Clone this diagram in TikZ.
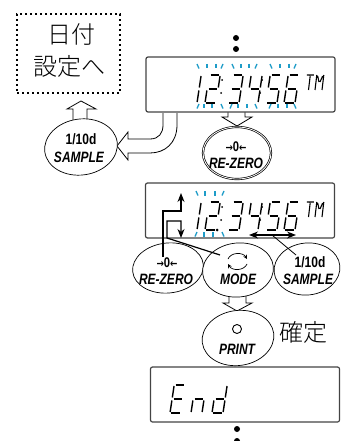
\documentclass[tikz,border=0pt]{standalone}
\usepackage{fontspec}
\setmainfont{Liberation Sans}
\newfontfamily\cjk[UprightFont=* Light]{Noto Sans CJK JP}
\newfontfamily\keyfont[FakeStretch=0.8]{Liberation Sans}
\newfontfamily\arrowfont[FakeStretch=0.8]{DejaVu Sans}
\usetikzlibrary{arrows.meta, positioning, shapes.geometric}
\definecolor{panelgray}{HTML}{444444}
\definecolor{flashblue}{HTML}{1E9CC8}
\tikzset{
  sega/.style={insert path={(1.5,28) -- (10,28)}},
  segb/.style={insert path={(11,27) -- (11,15.5)}},
  segc/.style={insert path={(11,12.5) -- (11,1)}},
  segd/.style={insert path={(1,0) -- (10,0)}},
  sege/.style={insert path={(0,1) -- (0,12.5)}},
  segf/.style={insert path={(0,15.5) -- (0,27)}},
  segg/.style={insert path={(1.5,14) -- (9.5,14)}},
}
\newcommand{\lcdglyph}[3]{%
  \begin{scope}[shift={(#1,#2)}, x=1pt, y=1pt, xslant=0.15]
    \foreach \s in {#3} \draw[lcdseg, seg\s];
  \end{scope}}
\newcommand{\lcdtime}[1]{%
  \lcdglyph{186}{#1}{b,c}
  \lcdglyph{205}{#1}{a,b,g,e,d}
  \lcdglyph{228}{#1}{a,b,g,c,d}
  \lcdglyph{247}{#1}{f,g,b,c}
  \lcdglyph{266}{#1}{a,f,g,c,d}
  \lcdglyph{284}{#1}{a,f,g,e,c,d}
  \fill (222,#1-23) circle (1) (221,#1-10) circle (1) (262,#1-23) circle (1) (260,#1-10) circle (1);
  % TM mark
  \begin{scope}[shift={(305,#1-13)}, x=1pt, y=1pt, xslant=0.12, line width=1.1pt]
    \draw (0,15) -- (7,15) (3.5,14) -- (3.5,0);
    \draw (10,15) -- (10,0) (17,15) -- (17,0) (11,14) -- (13,8) (16,14) -- (14,8);
  \end{scope}}
\newcommand{\keyarrows}{{\arrowfont\bfseries\fontsize{11}{11}\selectfont →}{\fontsize{14}{14}\selectfont 0}{\arrowfont\bfseries\fontsize{11}{11}\selectfont ←}}
\begin{document}
\begin{tikzpicture}[
  x=1pt, y=-1pt,
  lcdpanel/.style={rectangle, rounded corners=2pt, minimum width=189pt, minimum height=55pt, draw=panelgray, line width=1.2pt, fill=white},
  keyoval/.style={ellipse, draw, line width=0.7pt, fill=white, inner sep=0pt, minimum width=71pt, minimum height=54pt},
  keytext/.style={font=\keyfont\bfseries\itshape\fontsize{15}{15}\selectfont, inner sep=0pt},
  keytop/.style={font=\keyfont\bfseries\fontsize{15}{15}\selectfont, inner sep=0pt},
  jptext/.style={font=\cjk\fontsize{24}{24}\selectfont, inner sep=0pt},
  hollow/.style={draw=black, line width=0.8pt, fill=white},
  flash/.style={draw=flashblue, line width=1.3pt},
  lcdseg/.style={line width=1.4pt, black},
  dotmark/.style={circle, fill=black, inner sep=0pt, minimum size=6pt},
  guide/.style={line width=1.2pt},
]
\useasboundingbox (0,0) rectangle (340,441);

\node[rectangle, draw, line width=2.4pt, dash pattern=on 2.4pt off 2.6pt, minimum width=103pt, minimum height=79pt] (datebox) at (68.5,53.5) {};
\node[jptext] (datea) at (71,35) {日付};
\node[jptext] (dateb) at (69,66) {設定へ};

\node[dotmark] (dota) at (236,38) {};
\node[dotmark] (dotb) at (236,49) {};
\node[dotmark] (dotc) at (237,429) {};
\node[dotmark] (dotd) at (237,441) {};

\draw[hollow] (81,101) -- (96,109) -- (87,109) -- (87,121) -- (73,121) -- (73,109) -- (67,109) -- cycle;
\draw[hollow] (228,112) -- (228,117) -- (222,117) -- (237,126) -- (252,117) -- (245,117) -- (245,112);
\draw[hollow] (229,296) -- (229,303) -- (223,303) -- (237,311) -- (252,303) -- (246,303) -- (246,296);

\node[lcdpanel] (panela) at (240.5,84.5) {};
\node[lcdpanel] (panelb) at (240,210.5) {};
\node[lcdpanel] (panelc) at (245,394.5) {};

\draw[hollow] (177,113) -- (177,125) .. controls (177,143) and (165,153) .. (150,153) -- (128,153) -- (128,160) -- (117,146) -- (128,132) -- (128,139) -- (150,139) .. controls (159,139) and (163,133) .. (163,125) -- (163,113);

% first display
\lcdtime{103}
\foreach \tx/\tb in {197/3,207/0,216/0,223/-3,232/3,241/0,249/0,257/-3,270/3,280/0,289/0,296/-3} \draw[flash] (\tx,64) -- (\tx+\tb/1.5,68.5);
\foreach \tx/\tb in {199/-3,204/0,212/0,221/3,232/-3,238/0,247/0,255/3,271/-3,278/0,287/0,294/3} \draw[flash] (\tx,104) -- (\tx+\tb/1.5,108.5);

% second display
\lcdtime{230}
\foreach \tx/\tb in {196/3,205/0,215/0,224/-3} \draw[flash] (\tx,191) -- (\tx+\tb/1.5,195.5);
\foreach \tx/\tb in {197/-3,204/0,213/0,222/3} \draw[flash] (\tx,232) -- (\tx+\tb/1.5,236.5);
\node[circle, fill=black, inner sep=0pt, minimum size=3pt] (decdot) at (217,230) {};

% End
\lcdglyph{170}{413}{a,f,g,e,d}
\lcdglyph{191}{413}{e,g,c}
\lcdglyph{212}{413}{g,e,d,c,b}

\node[keyoval, rotate=8, minimum width=73pt, minimum height=56pt] (samplea) at (81,147) {};
\node[keytop] (sampleatop) at (81,139) {1/10d};
\node[keytext] (sampleatext) at (79,157) {SAMPLE};

\node[keyoval, double, double distance=0.8pt, minimum width=68pt, minimum height=52pt] (zeroa) at (237,153) {};
\node[keytop] (zeroatop) at (236,147) {\keyarrows};
\node[keytext] (zeroatext) at (236,163) {RE-ZERO};

\node[keyoval, rotate=6, minimum height=50pt] (zerob) at (168,268) {};
\node[keytop] (zerobtop) at (167,263) {\keyarrows};
\node[keytext] (zerobtext) at (166,279) {RE-ZERO};

\node[keyoval, rotate=6] (modekey) at (238,270) {};
\node[keytext] (modetext) at (238,279) {MODE};
\draw[line width=0.7pt, -{Stealth[length=4pt, width=4pt]}] (228,259) .. controls (231,252) and (243,252) .. (247,259);
\draw[line width=0.7pt, -{Stealth[length=4pt, width=4pt]}] (247,264) .. controls (244,271) and (232,271) .. (228,264);

\node[keyoval, rotate=6, minimum width=66pt, minimum height=52pt] (sampleb) at (307,269) {};
\node[keytop] (samplebtop) at (310,262) {1/10d};
\node[keytext] (samplebtext) at (308,279) {SAMPLE};

\node[keyoval, rotate=8, minimum width=72pt, minimum height=55pt] (printkey) at (238,338) {};
\node[circle, draw, line width=0.9pt, inner sep=0pt, minimum size=9pt] (printring) at (237,329) {};
\node[keytext] (printtext) at (237,349) {PRINT};
\node[jptext] (confirm) at (303,332) {確定};

% key guides
\coordinate (upend) at (181,193);
\coordinate (upbend) at (181,211);
\coordinate (zerofoot) at (163,257);
\coordinate (downend) at (181,238);
\coordinate (downbend) at (181,221);
\coordinate (modefoot) at (220,255);
\coordinate (modebend) at (167,238);
\coordinate (lefttip) at (249,235);
\coordinate (righttip) at (296,235);
\coordinate (spanmid) at (272,235);
\coordinate (samplefoot) at (296,255);
\draw[guide, -{Stealth[length=9pt, width=7pt]}] (zerofoot) |- (upbend) -- (upend);
\draw[guide, -{Stealth[length=9pt, width=7pt]}] (modefoot) -- (modebend) |- (downbend) -- (downend);
\draw[guide, {Stealth[length=9pt, width=7pt]}-{Stealth[length=9pt, width=7pt]}] (lefttip) -- (righttip);
\draw[line width=0.8pt] (spanmid) -- (samplefoot);
\end{tikzpicture}
\end{document}
